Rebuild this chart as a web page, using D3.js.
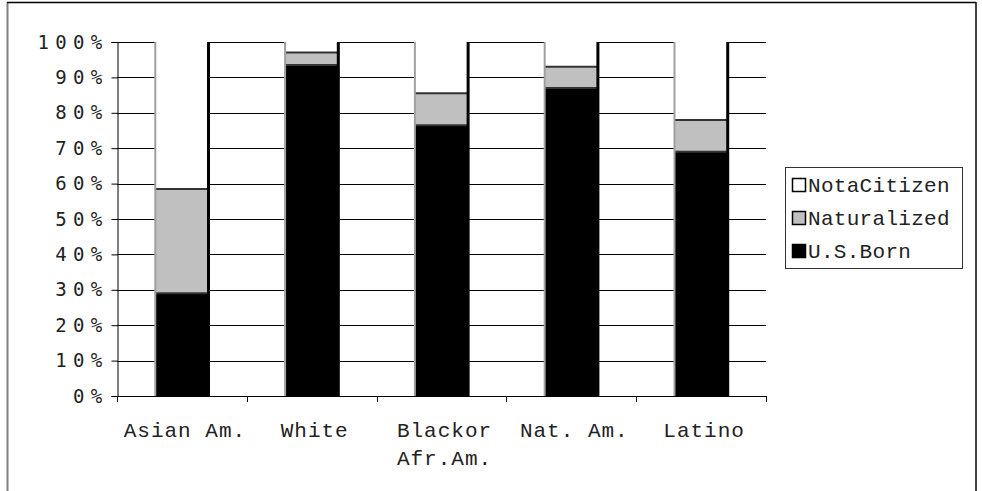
<!DOCTYPE html>
<html>
<head>
<meta charset="utf-8">
<script src="https://cdn.jsdelivr.net/npm/d3@7"></script>
<style>
  html, body { margin: 0; padding: 0; background: #fff; }
  svg { display: block; }
</style>
</head>
<body>
<svg id="chart" width="982" height="491"></svg>
<script>
// ---- data ----
const categories = ["Asian Am.", "White", "Blackor\nAfr.Am.", "Nat. Am.", "Latino"];
const usBorn      = [29, 93.5, 76.5, 87, 69];
const naturalized = [29.5, 3.5, 9, 6, 9];
const notCitizen  = [41.5, 3, 14.5, 7, 22];
const seriesNames = ["U.S.Born", "Naturalized", "NotaCitizen"];
const yTicks = [0, 10, 20, 30, 40, 50, 60, 70, 80, 90, 100];

// ---- build table ----
const rows = categories.map((c, i) => ({
  cat: c, "U.S.Born": usBorn[i], "Naturalized": naturalized[i], "NotaCitizen": notCitizen[i]
}));
const stacked = d3.stack().keys(seriesNames)(rows);

const fills = { "U.S.Born": "#000000", "Naturalized": "#c0c0c0", "NotaCitizen": "#ffffff" };

const svg = d3.select("#chart");
svg.append("rect").attr("width", 982).attr("height", 491).attr("fill", "#fff");

// outer chart border (cut off at bottom)
svg.append("line").attr("x1", 7.5).attr("x2", 7.5).attr("y1", 2).attr("y2", 491)
  .attr("stroke", "#808080").attr("stroke-width", 2);
svg.append("line").attr("x1", 7).attr("x2", 976).attr("y1", 2.5).attr("y2", 2.5)
  .attr("stroke", "#000").attr("stroke-width", 1.5);
svg.append("line").attr("x1", 976).attr("x2", 976).attr("y1", 2).attr("y2", 491)
  .attr("stroke", "#000").attr("stroke-width", 1.5);

const x0 = 117, x1 = 766, yTop = 42, yBot = 396;
const x = d3.scaleBand().domain(categories).range([x0, x1]).paddingInner(0.59).paddingOuter(0.295);
const y = d3.scaleLinear().domain([0, 100]).range([yBot, yTop]);

// gridlines
svg.append("g").selectAll("line").data(yTicks.filter(t => t > 0)).join("line")
  .attr("x1", x0).attr("x2", x1)
  .attr("y1", d => Math.round(y(d)) + 0.5).attr("y2", d => Math.round(y(d)) + 0.5)
  .attr("stroke", "#000").attr("stroke-width", 1);

// y axis
const yAxis = d3.axisLeft(y).tickValues(yTicks).tickSize(6).tickFormat(d => d + "%");
const gy = svg.append("g").attr("transform", `translate(${x0 + 0.5},0)`).call(yAxis);
gy.select(".domain").attr("stroke", "#000");
gy.selectAll(".tick line").attr("stroke", "#000");
gy.selectAll(".tick text")
  .attr("font-family", "'DejaVu Sans Mono', monospace")
  .attr("font-size", 19)
  .attr("letter-spacing", "6.3px")
  .attr("x", -9)
  .attr("fill", "#222");

// x axis
const boundaries = d3.range(categories.length + 1).map(i => x0 + i * x.step());
svg.append("line").attr("x1", x0).attr("x2", x1).attr("y1", yBot + 0.5).attr("y2", yBot + 0.5)
  .attr("stroke", "#000");
svg.append("g").selectAll("line").data(boundaries).join("line")
  .attr("x1", d => Math.round(d) + 0.5).attr("x2", d => Math.round(d) + 0.5)
  .attr("y1", yBot).attr("y2", yBot + 6).attr("stroke", "#000");

// bars
const gBars = svg.append("g");
stacked.forEach(layer => {
  gBars.append("g").selectAll("rect").data(layer).join("rect")
    .attr("x", d => x(d.data.cat))
    .attr("width", x.bandwidth())
    .attr("y", d => y(d[1]))
    .attr("height", d => y(d[0]) - y(d[1]))
    .attr("fill", fills[layer.key]);
});
// segment top edges (except the white top)
stacked.slice(0, 2).forEach(layer => {
  gBars.append("g").selectAll("line").data(layer).join("line")
    .attr("x1", d => x(d.data.cat)).attr("x2", d => x(d.data.cat) + x.bandwidth())
    .attr("y1", d => y(d[1])).attr("y2", d => y(d[1]))
    .attr("stroke", "#333").attr("stroke-width", 2);
});
// bar side edges
const lastLayer = stacked[stacked.length - 1];
gBars.append("g").selectAll("line").data(lastLayer).join("line")
  .attr("x1", d => x(d.data.cat)).attr("x2", d => x(d.data.cat))
  .attr("y1", d => y(d[1])).attr("y2", d => y(0))
  .attr("stroke", "#a0a0a0").attr("stroke-width", 2);
gBars.append("g").selectAll("line").data(lastLayer).join("line")
  .attr("x1", d => x(d.data.cat) + x.bandwidth()).attr("x2", d => x(d.data.cat) + x.bandwidth())
  .attr("y1", d => y(d[1])).attr("y2", d => y(0))
  .attr("stroke", "#000").attr("stroke-width", 3);

// x labels
const gx = svg.append("g");
categories.forEach(c => {
  const t = gx.append("text")
    .attr("x", x(c) + x.bandwidth() / 2 + 3)
    .attr("y", 437)
    .attr("text-anchor", "middle")
    .attr("font-family", "'Liberation Mono', 'Courier New', monospace")
    .attr("font-size", 21)
    .attr("letter-spacing", "1px")
    .attr("fill", "#222");
  c.split("\n").forEach((line, i) => {
    t.append("tspan").attr("x", x(c) + x.bandwidth() / 2 + 3).attr("dy", i === 0 ? 0 : 28).text(line);
  });
});

// legend
const lg = svg.append("g");
lg.append("rect").attr("x", 785.5).attr("y", 167.5).attr("width", 177).attr("height", 101)
  .attr("fill", "#fff").attr("stroke", "#333").attr("stroke-width", 1);
const legendOrder = ["NotaCitizen", "Naturalized", "U.S.Born"];
legendOrder.forEach((k, i) => {
  const yy = 178 + i * 33;
  lg.append("rect").attr("x", 792.5).attr("y", yy + 0.5).attr("width", 13).attr("height", 13)
    .attr("fill", fills[k]).attr("stroke", "#000").attr("stroke-width", 1.5);
  lg.append("text").attr("x", 808).attr("y", yy + 14)
    .attr("font-family", "'Liberation Mono', 'Courier New', monospace")
    .attr("font-size", 21)
    .attr("letter-spacing", "0.3px")
    .attr("fill", "#222")
    .text(k);
});
</script>
</body>
</html>
